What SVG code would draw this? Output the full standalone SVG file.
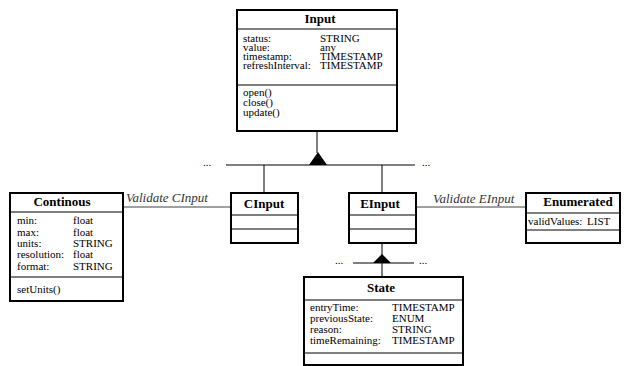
<svg xmlns="http://www.w3.org/2000/svg" width="624" height="366" viewBox="0 0 624 366" font-family="'Liberation Serif', 'Times New Roman', Tinos, 'DejaVu Serif', serif">
<style>
text{font-family:'Liberation Serif','Times New Roman',Tinos,'DejaVu Serif',serif}
.box{fill:#fff;stroke:#000;stroke-width:2}
.div{stroke:#000;stroke-width:1}
.t{font-size:13px;font-weight:bold;text-anchor:middle;fill:#000}
.a{font-size:11px;fill:#000}
.lbl{font-size:13px;font-style:italic;fill:#333}
.ln{stroke:#000;stroke-width:1;fill:none}
.as{stroke:#808080;stroke-width:1.6;fill:none}
</style>
<g id="connectors">
<line class="ln" x1="317" y1="131" x2="317" y2="153"/>
<line class="ln" x1="226" y1="165" x2="415" y2="165"/>
<polygon points="318,152 309,165 327,165" fill="#000"/>
<line class="ln" x1="264" y1="165" x2="264" y2="193"/>
<line class="ln" x1="382" y1="165" x2="382" y2="193"/>
<text class="a" x="203" y="166">...</text>
<text class="a" x="422" y="166">...</text>
<line class="as" x1="123" y1="207" x2="231" y2="207"/>
<text class="lbl" x="126" y="202">Validate CInput</text>
<line class="as" x1="417" y1="207" x2="526" y2="207"/>
<text class="lbl" x="433" y="203">Validate EInput</text>
<line class="ln" x1="382" y1="243" x2="382" y2="256"/>
<line class="ln" x1="353" y1="263" x2="414" y2="263"/>
<polygon points="382,254 373,263 391,263" fill="#000"/>
<line class="ln" x1="382" y1="263" x2="382" y2="277"/>
<text class="a" x="335" y="264">...</text>
<text class="a" x="419" y="264">...</text>
</g>
<g id="Input">
<rect class="box" x="237" y="10" width="160" height="121"/>
<line class="div" x1="237" y1="29" x2="397" y2="29"/>
<line class="div" x1="237" y1="85" x2="397" y2="85"/>
<text class="t" x="320" y="23">Input</text>
<text class="a" x="243" y="42">status:</text><text class="a" x="320" y="42">STRING</text>
<text class="a" x="243" y="51">value:</text><text class="a" x="320" y="51">any</text>
<text class="a" x="243" y="60">timestamp:</text><text class="a" x="320" y="60">TIMESTAMP</text>
<text class="a" x="243" y="69">refreshInterval:</text><text class="a" x="320" y="69">TIMESTAMP</text>
<text class="a" x="243" y="96">open()</text>
<text class="a" x="243" y="106">close()</text>
<text class="a" x="243" y="116">update()</text>
</g>
<g id="Continous">
<rect class="box" x="10" y="193" width="113" height="108"/>
<line class="div" x1="10" y1="212" x2="123" y2="212"/>
<line class="div" x1="10" y1="277" x2="123" y2="277"/>
<text class="t" x="62" y="206">Continous</text>
<text class="a" x="17" y="224">min:</text><text class="a" x="73" y="224">float</text>
<text class="a" x="17" y="236">max:</text><text class="a" x="73" y="236">float</text>
<text class="a" x="17" y="247">units:</text><text class="a" x="73" y="247">STRING</text>
<text class="a" x="17" y="258">resolution:</text><text class="a" x="73" y="258">float</text>
<text class="a" x="17" y="270">format:</text><text class="a" x="73" y="270">STRING</text>
<text class="a" x="17" y="293">setUnits()</text>
</g>
<g id="CInput">
<rect class="box" x="231" y="193" width="67" height="50"/>
<line class="div" x1="231" y1="215" x2="298" y2="215"/>
<line class="div" x1="231" y1="229" x2="298" y2="229"/>
<text class="t" x="264" y="208">CInput</text>
</g>
<g id="EInput">
<rect class="box" x="349" y="193" width="67" height="50"/>
<line class="div" x1="349" y1="215" x2="416" y2="215"/>
<line class="div" x1="349" y1="229" x2="416" y2="229"/>
<text class="t" x="380" y="208">EInput</text>
</g>
<g id="Enumerated">
<rect class="box" x="526" y="193" width="94" height="50"/>
<line class="div" x1="526" y1="213" x2="620" y2="213"/>
<line class="div" x1="526" y1="230" x2="620" y2="230"/>
<text class="t" x="578" y="206">Enumerated</text>
<text class="a" x="528" y="225">validValues:</text><text class="a" x="587" y="225">LIST</text>
</g>
<g id="State">
<rect class="box" x="304" y="277" width="159" height="88"/>
<line class="div" x1="304" y1="300" x2="463" y2="300"/>
<line class="div" x1="304" y1="353" x2="463" y2="353"/>
<text class="t" x="381" y="292">State</text>
<text class="a" x="310" y="311">entryTime:</text><text class="a" x="392" y="311">TIMESTAMP</text>
<text class="a" x="310" y="322">previousState:</text><text class="a" x="392" y="322">ENUM</text>
<text class="a" x="310" y="333">reason:</text><text class="a" x="392" y="333">STRING</text>
<text class="a" x="310" y="344">timeRemaining:</text><text class="a" x="392" y="344">TIMESTAMP</text>
</g>
</svg>
